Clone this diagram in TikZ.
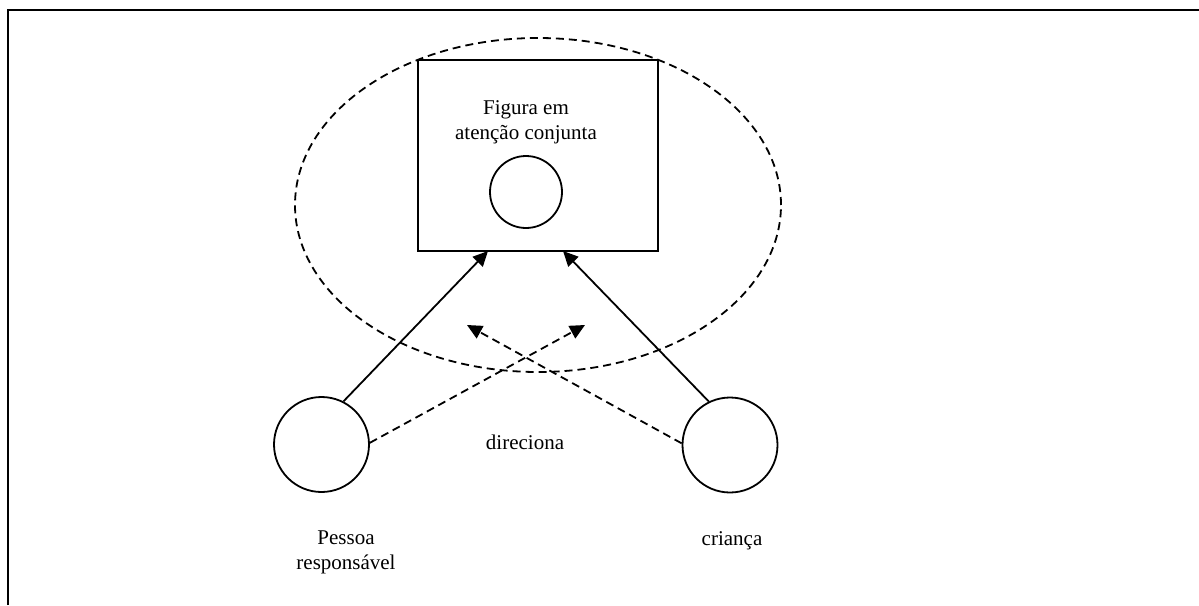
\documentclass[tikz,border=0pt]{standalone}
\usepackage{fontspec}
\setmainfont{Liberation Serif}
\usetikzlibrary{arrows.meta,shapes.geometric}
\begin{document}
\begin{tikzpicture}[x=1pt,y=-1pt,
  every node/.style={font=\fontsize{21}{25}\selectfont},
  ln/.style={line width=1.8pt},
  dsh/.style={line width=1.8pt, dash pattern=on 8pt off 5pt},
  tip/.style={-{Triangle[length=15pt,width=14pt]}},
  person/.style={circle, draw, line width=1.8pt, minimum size=95pt, inner sep=0pt},
  label/.style={align=center, inner sep=0pt}]
\useasboundingbox (0,0) rectangle (1199,605);
\fill[white] (0,0) rectangle (1199,605);
% frame
\draw[line width=2pt] (8,605) -- (8,10) -- (1199,10);
% joint attention zone
\node[ellipse, draw, dsh, minimum width=486pt, minimum height=334pt, inner sep=0pt] (zone) at (538,205) {};
% figure box
\node[draw, line width=1.8pt, minimum width=240pt, minimum height=191pt, inner sep=0pt] (fig) at (538,155.5) {};
\node[label] (figtxt) at (526,122) {Figura em\\aten\c{c}\~ao conjunta};
\node[circle, draw, line width=1.8pt, minimum size=72pt, inner sep=0pt] (obj) at (526,192) {};
% people
\node[person] (pl) at (321.5,444.5) {};
\node[person] (pr) at (730,445) {};
\node[label] (pltxt) at (346,552) {Pessoa\\respons\'avel};
\node[label] (prtxt) at (732,541) {crian\c{c}a};
\node[label] (dir) at (525,442) {direciona};
% targets
\coordinate (a1) at (488,251);
\coordinate (a2) at (563,251);
\coordinate (tL) at (467,325);
\coordinate (tR) at (585,325);
% connectors
\draw[ln,tip] (pl.63) -- (a1);
\draw[ln,tip] (pr.116) -- (a2);
\draw[dsh,tip] (pl.2) -- (tR);
\draw[dsh,tip] (pr.178) -- (tL);
\end{tikzpicture}
\end{document}
